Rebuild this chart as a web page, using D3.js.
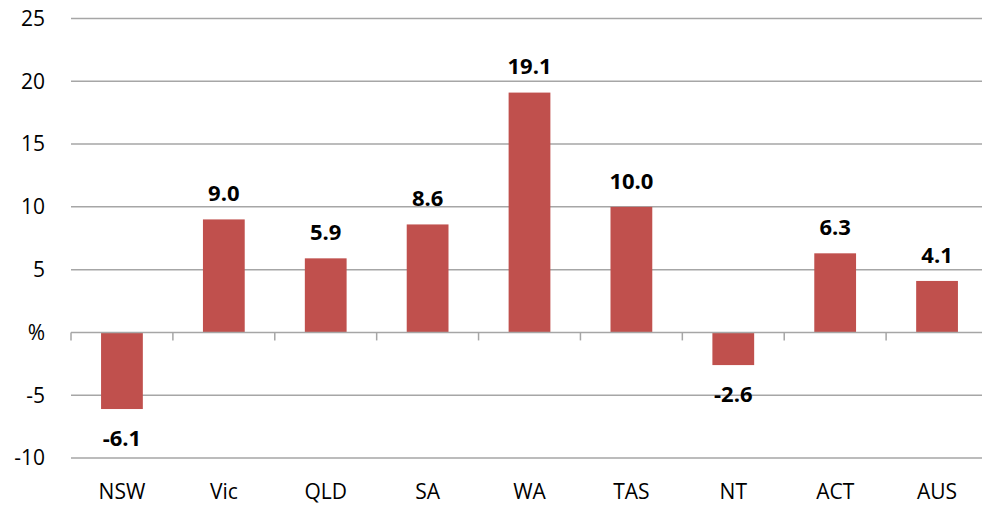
<!DOCTYPE html>
<html>
<head>
<meta charset="utf-8">
<script src="https://cdn.jsdelivr.net/npm/d3@7"></script>
<style>
    body { margin: 0; background: #fff; }
    text { font-family: "Open Sans", Lato, sans-serif; }
</style>
</head>
<body>
<div id="chart"></div>
<script>
// data
let states = ["NSW", "Vic", "QLD", "SA", "WA", "TAS", "NT", "ACT", "AUS"];
let values = [-6.1, 9.0, 5.9, 8.6, 19.1, 10.0, -2.6, 6.3, 4.1];
let yTicks = [-10, -5, 0, 5, 10, 15, 20, 25];

let width = 982
let height = 509
let margin = {top: 18.5, right: -6, bottom: 51, left: 71};

let svg = d3.select("#chart").append("svg")
    .attr("width", width)
    .attr("height", height);

let x = d3.scaleBand()
    .domain(states)
    .range([margin.left, width - margin.right])
    .paddingInner(0.59)
    .paddingOuter(0.295);

let y = d3.scaleLinear()
    .domain([-10, 25])
    .range([height - margin.bottom, margin.top]);

// gridlines
svg.append("g")
    .selectAll("line")
    .data(yTicks.filter(d => d !== 0))
    .enter().append("line")
    .attr("x1", margin.left)
    .attr("x2", width)
    .attr("y1", d => y(d))
    .attr("y2", d => y(d))
    .attr("stroke", "#a6a6a6")
    .attr("stroke-width", 1.5);

// y labels, 0 shown as %
svg.append("g")
    .selectAll("text")
    .data(yTicks)
    .enter().append("text")
    .attr("x", 45)
    .attr("y", d => y(d))
    .attr("dy", "0.35em")
    .attr("text-anchor", "end")
    .attr("font-size", 21)
    .attr("fill", "#000")
    .text(d => d === 0 ? "%" : d);

// bars
svg.append("g")
    .selectAll("rect")
    .data(values)
    .enter().append("rect")
    .attr("x", (d, i) => x(states[i]))
    .attr("width", x.bandwidth())
    .attr("y", d => y(Math.max(0, d)))
    .attr("height", d => Math.abs(y(d) - y(0)))
    .attr("fill", "#c0504d");

// zero axis with category ticks
let bounds = d3.range(states.length + 1).map(i => margin.left + i * x.step());
let axis = svg.append("g");
axis.append("line")
    .attr("x1", margin.left)
    .attr("x2", width)
    .attr("y1", y(0))
    .attr("y2", y(0))
    .attr("stroke", "#a6a6a6")
    .attr("stroke-width", 1.5);
axis.selectAll(".tick")
    .data(bounds)
    .enter().append("line")
    .attr("class", "tick")
    .attr("x1", d => d)
    .attr("x2", d => d)
    .attr("y1", y(0))
    .attr("y2", y(0) + 8)
    .attr("stroke", "#a6a6a6")
    .attr("stroke-width", 1.5);

// value labels
svg.append("g")
    .selectAll("text")
    .data(values)
    .enter().append("text")
    .attr("x", (d, i) => x(states[i]) + x.bandwidth() / 2)
    .attr("y", d => d >= 0 ? y(d) - 26 : y(d) + 29)
    .attr("dy", "0.35em")
    .attr("text-anchor", "middle")
    .attr("font-size", 22)
    .attr("font-weight", "bold")
    .attr("fill", "#000")
    .text(d => d.toFixed(1));

// category labels
svg.append("g")
    .selectAll("text")
    .data(states)
    .enter().append("text")
    .attr("x", d => x(d) + x.bandwidth() / 2)
    .attr("y", 492)
    .attr("dy", "0.35em")
    .attr("text-anchor", "middle")
    .attr("font-size", 21)
    .attr("fill", "#000")
    .text(d => d);
</script>
</body>
</html>
